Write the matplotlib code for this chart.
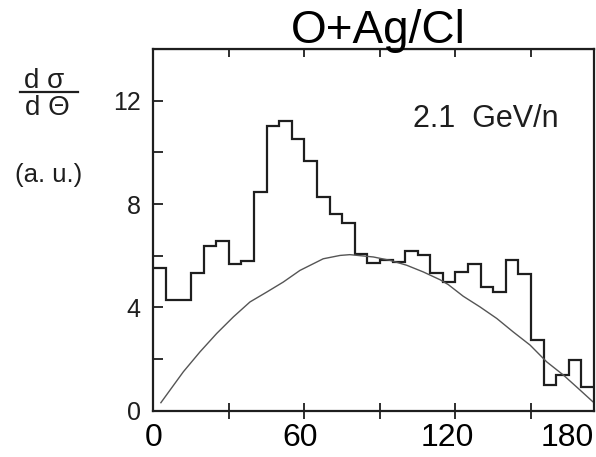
import numpy as np
import matplotlib
matplotlib.use("Agg")
import matplotlib.pyplot as plt
from matplotlib.lines import Line2D

plt.rcParams['font.family'] = ['Liberation Sans', 'DejaVu Sans']

# DATA

# histogram: 35 equal bins over the 0..180 axis
bin_edges = np.linspace(0, 180, 36)
counts = [5.52, 4.27, 4.27, 5.34, 6.37, 6.56, 5.69, 5.80, 8.47, 11.01,
          11.20, 10.53, 9.67, 8.27, 7.60, 7.28, 6.08, 5.71, 5.85, 5.75,
          6.18, 6.01, 5.33, 4.98, 5.35, 5.69, 4.80, 4.60, 5.82, 5.30,
          2.73, 0.98, 1.38, 1.96, 0.93]

# smooth background curve, sampled by eye
curve_theta = [3.1, 12.3, 19.1, 25.9, 32.7, 39.5, 46.3, 53.1, 59.9, 69.4,
               76.3, 80.3, 89.9, 96.7, 103.5, 110.3, 117.1, 120.5, 126.6,
               133.4, 140.3, 147.0, 153.9, 160.7, 167.5, 174.3, 179.5]
curve_value = [0.31, 1.51, 2.28, 2.99, 3.63, 4.21, 4.59, 4.98, 5.43, 5.88,
               6.01, 6.04, 5.95, 5.82, 5.63, 5.37, 5.07, 4.88, 4.43,
               4.02, 3.57, 3.05, 2.54, 1.89, 1.38, 0.80, 0.35]

x_labels = ["0", "60", "120", "180"]
x_label_pos = [0, 60, 120, 180]
# tick marks of the original scan (every 30 deg on its own scale)
scan_ticks = [30.9, 61.7, 92.6, 123.4, 154.3]

y_label_pos = [0, 4, 8, 12]
y_minor_pos = [2, 6, 10]

INK = "#1e1e1e"

# FIGURE

fig = plt.figure(figsize=(5.96, 4.57), dpi=100)
ax = fig.add_axes([0.2572, 0.1013, 0.7394, 0.7915])

ax.stairs(counts, bin_edges, baseline=None, color=INK, linewidth=1.6)
ax.plot(curve_theta, curve_value, color="#555555", linewidth=1.0)

ax.set_xlim(0, 180)
ax.set_ylim(0, 14)

for side in ax.spines.values():
    side.set_linewidth(1.6)
    side.set_color(INK)

# x axis: labels only on major, scan marks as minor ticks
ax.set_xticks(x_label_pos)
ax.set_xticklabels(x_labels)
ax.set_xticks(scan_ticks, minor=True)
ax.tick_params(axis="x", which="major", length=0, pad=8.5, labelsize=23)
ax.tick_params(axis="x", which="minor", direction="inout", length=12,
               width=1.3, color=INK)
ax.get_xticklabels()[-1].set_horizontalalignment("right")

# top ticks point inward
top = ax.secondary_xaxis("top")
top.set_xticks(scan_ticks)
top.tick_params(direction="in", length=6, width=1.3, color=INK,
                labeltop=False, labelbottom=False)

# y axis
ax.set_yticks(y_label_pos)
ax.set_yticks(y_minor_pos, minor=True)
ax.tick_params(axis="y", which="both", direction="in", length=7, width=1.3,
               color=INK, labelsize=18, pad=9, labelcolor=INK)

# TEXT

fig.text(378.5 / 596, 1 - 43 / 457, "O+Ag/Cl", ha="center", va="baseline",
         fontsize=33, zorder=5)
fig.text(413 / 596, 1 - 127 / 457, "2.1  GeV/n", ha="left", va="baseline",
         fontsize=22, color=INK)

# d sigma / d Theta label
fig.text(44.5 / 596, 1 - 88 / 457, "d σ", ha="center", va="baseline",
         fontsize=20, color=INK)
fig.add_artist(Line2D([20 / 596, 78 / 596], [1 - 92 / 457, 1 - 92 / 457],
                      color=INK, linewidth=1.6))
fig.text(47 / 596, 1 - 115 / 457, "d Θ", ha="center", va="baseline",
         fontsize=20, color=INK)
fig.text(49 / 596, 1 - 175 / 457, "(a. u.)", ha="center", va="center",
         fontsize=18.5, color=INK)

fig.savefig("out.png", dpi=100)
